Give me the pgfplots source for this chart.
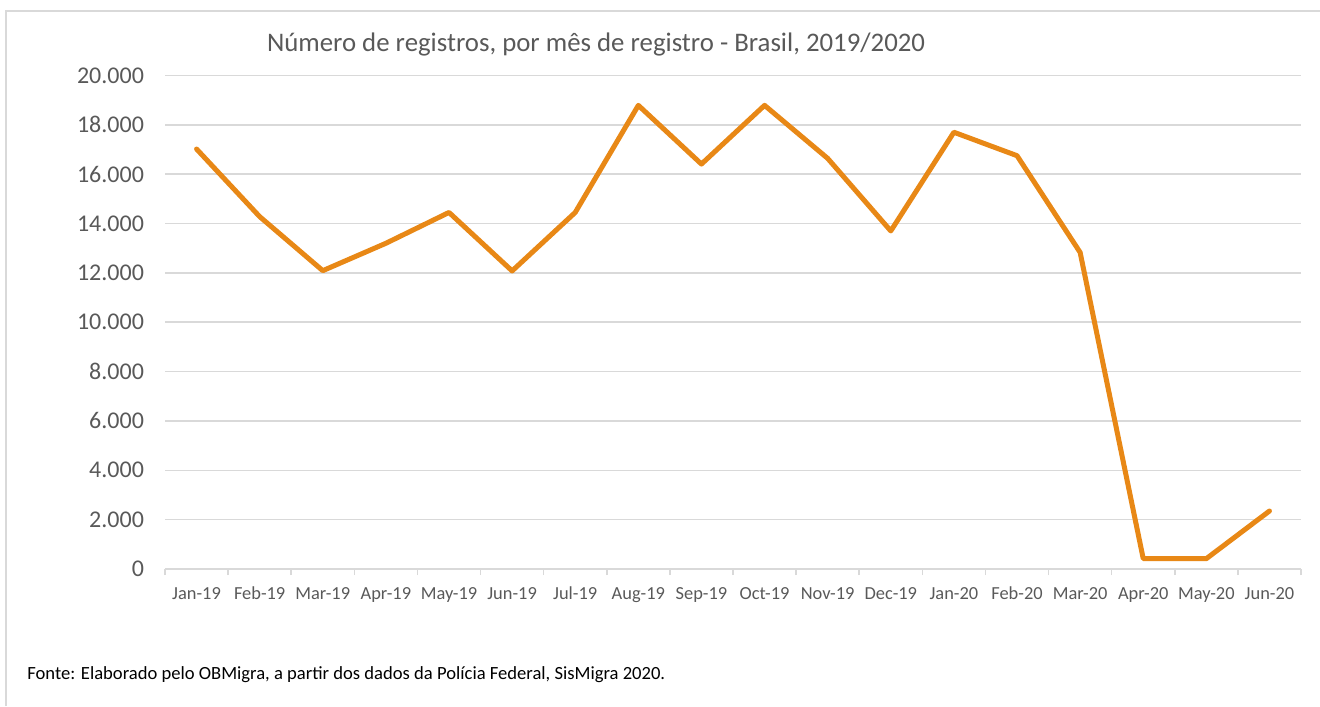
\documentclass[border=0pt]{standalone}
\usepackage{pgfplots}
\pgfplotsset{compat=1.18}
\usepackage{fontspec}
\setmainfont{Carlito}
\definecolor{lineor}{RGB}{232,136,22}
\definecolor{gridg}{RGB}{217,217,217}
\definecolor{txtg}{RGB}{89,89,89}
\begin{document}
\begin{tikzpicture}[x=1pt,y=1pt]
\useasboundingbox (0,0) rectangle (660,353);
\draw[gridg, line width=1pt] (3,0) -- (3,347.5) -- (660,347.5);
\begin{axis}[at={(82.5pt,68.5pt)}, anchor=south west,
  width=568pt, height=246.75pt, scale only axis,
  xmin=-0.5, xmax=17.5, ymin=0, ymax=20000,
  axis line style={draw=none},
  ytick={0,2000,...,20000},
  scaled y ticks=false,
  /pgf/number format/.cd, 1000 sep={.}, assume math mode=true, /pgfplots/.cd,
  ymajorgrids, grid style={gridg, line width=0.75pt},
  xtick={0,...,17},
  xticklabels={Jan-19,Feb-19,Mar-19,Apr-19,May-19,Jun-19,Jul-19,Aug-19,Sep-19,Oct-19,Nov-19,Dec-19,Jan-20,Feb-20,Mar-20,Apr-20,May-20,Jun-20},
  minor xtick={-0.5,0.5,...,17.5},
  xtick pos=bottom, ytick pos=left,
  major tick length=0pt, minor tick length=3pt, tick align=outside,
  major tick style={draw=none},
  minor tick style={gridg, line width=0.75pt},
  yticklabel style={font=\fontsize{12}{14}\selectfont, text=txtg, anchor=east, xshift=-7pt},
  xticklabel style={font=\fontsize{9.2}{11}\selectfont, text=txtg, text height=6.5pt, text depth=2pt, yshift=-5pt},
]
\addplot[lineor, line width=2.5pt, line join=round, line cap=round] coordinates {
(0,17020) (1,14280) (2,12090) (3,13200) (4,14450) (5,12080) (6,14450) (7,18790) (8,16410)
(9,18790) (10,16640) (11,13700) (12,17700) (13,16750) (14,12830) (15,420) (16,420) (17,2350)};
\end{axis}
\node[font=\fontsize{13.4}{15}\selectfont, text=txtg] at (298,330.5) {Número de registros, por mês de registro - Brasil, 2019/2020};
\node[anchor=west, inner sep=0pt, font=\fontsize{9.3}{11}\selectfont] at (13.5,15.5) {Fonte: Elaborado pelo OBMigra, a partir dos dados da Polícia Federal, SisMigra 2020.};
\end{tikzpicture}
\end{document}
